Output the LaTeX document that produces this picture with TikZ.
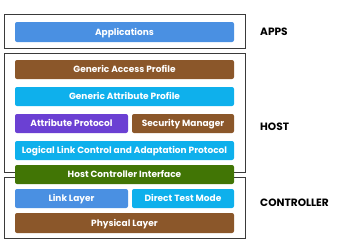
\documentclass[tikz,border=0pt]{standalone}
\usepackage{fontspec}
\setmainfont{Poppins}
\definecolor{cblue}{HTML}{4A90E2}
\definecolor{cbrown}{HTML}{8B572A}
\definecolor{ccyan}{HTML}{0EB0EC}
\definecolor{cpurple}{HTML}{6B40D3}
\definecolor{cgreen}{HTML}{417505}
\definecolor{cframe}{HTML}{3A3A3A}
\begin{document}
\begin{tikzpicture}[x=1pt,y=-1pt,
  bar/.style={rounded corners=2pt, text=white, font=\fontsize{9}{10}\selectfont\bfseries, inner sep=0pt, minimum height=19pt, text height=6.6pt, text depth=0.6pt},
  frame/.style={draw=cframe, line width=0.9pt, inner sep=0pt},
  lbl/.style={anchor=west, font=\fontsize{10.6}{12}\selectfont\bfseries, inner sep=0pt, text height=7.6pt, text depth=0pt}]
\useasboundingbox (0,0) rectangle (337,242);
% frames
\node[frame, minimum width=241pt, minimum height=34pt] (appsbox) at (124.5,31) {};
\node[frame, minimum width=241pt, minimum height=119pt] (hostbox) at (124.5,112.5) {};
\node[frame, minimum width=241pt, minimum height=61pt] (ctrlbox) at (124.5,207.5) {};
% bars
\node[bar, fill=cblue, minimum width=219pt, minimum height=20pt] (app) at (124.5,32) {Applications};
\node[bar, fill=cbrown, minimum width=219pt] (gap) at (124.5,69.5) {Generic Access Profile};
\node[bar, fill=ccyan, minimum width=219pt] (gatt) at (124.5,96.5) {Generic Attribute Profile};
\node[bar, fill=cpurple, minimum width=113pt] (att) at (71.5,123.5) {Attribute Protocol};
\node[bar, fill=cbrown, minimum width=102pt] (sm) at (183,123.5) {Security Manager};
\node[bar, fill=ccyan, minimum width=219pt] (l2cap) at (124.5,150.5) {Logical Link Control and Adaptation Protocol};
\node[bar, fill=cgreen, minimum width=219pt] (hci) at (124.5,174.5) {Host Controller Interface};
\node[bar, fill=cblue, minimum width=113pt] (ll) at (71.5,198.5) {Link Layer};
\node[bar, fill=ccyan, minimum width=102pt] (dtm) at (183,198.5) {Direct Test Mode};
\node[bar, fill=cbrown, minimum width=219pt, minimum height=20pt] (phy) at (124.5,223) {Physical Layer};
% labels
\node[lbl] (appslbl) at (260,31.5) {APPS};
\node[lbl] (hostlbl) at (260,127) {HOST};
\node[lbl] (ctrllbl) at (260,202.5) {CONTROLLER};
\end{tikzpicture}
\end{document}
